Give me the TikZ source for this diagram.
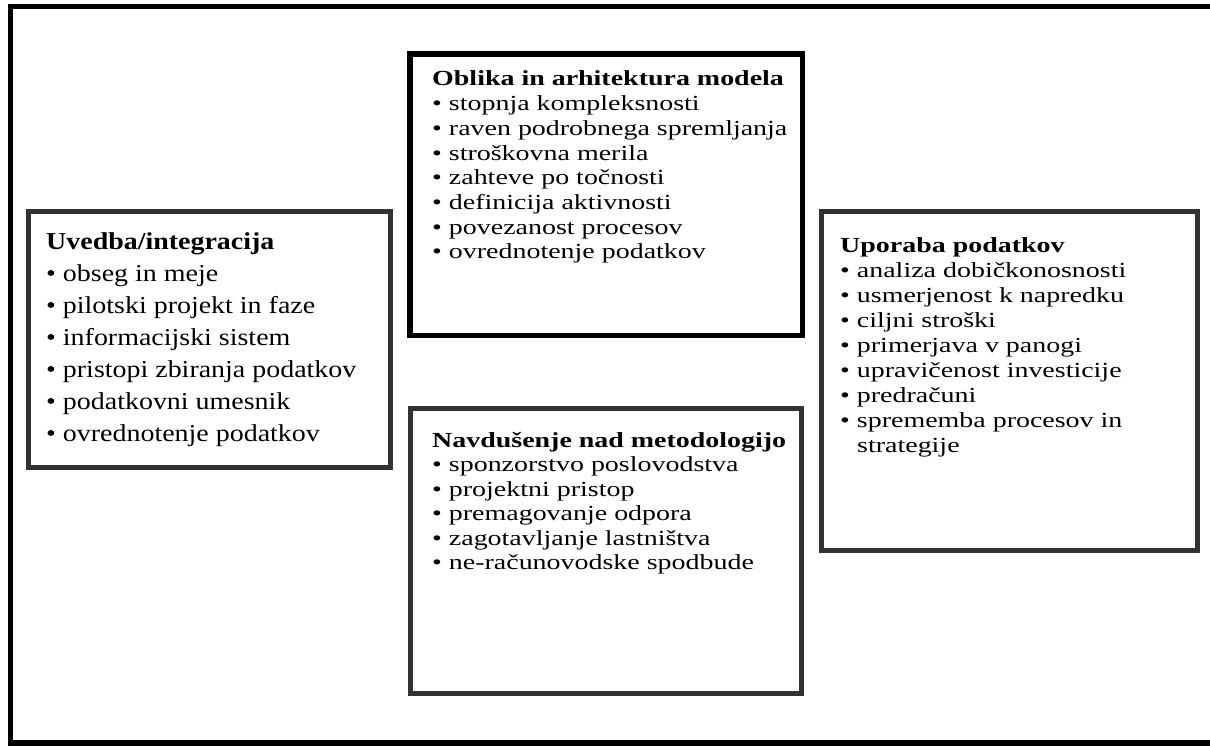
\documentclass[tikz,border=0pt]{standalone}
\usepackage{fontspec}
\setmainfont{Liberation Serif}
\newfontfamily\txtA{Liberation Serif}[FakeStretch=1.3]
\newfontfamily\txtB{Liberation Serif}[FakeStretch=1.15]
\definecolor{boxgray}{HTML}{333333}
\tikzset{
  frameline/.style={draw=black, line width=5.5pt},
  blackbox/.style={draw=black, line width=5.5pt},
  graybox/.style={draw=boxgray, line width=5pt},
  boxtext/.style={anchor=base west, inner sep=0pt,
    font=\txtA\fontsize{21.5pt}{25pt}\selectfont},
  lefttext/.style={anchor=base west, inner sep=0pt,
    font=\txtB\fontsize{24.3pt}{28pt}\selectfont}
}
\begin{document}
\begin{tikzpicture}[x=1pt,y=-1pt]
\useasboundingbox (0,0) rectangle (1210,746);
\fill[white] (0,0) rectangle (1210,746);
% outer frame
\draw[frameline] (1214,6.5) -- (10.5,6.5) -- (10.5,743) -- (1214,743);
% boxes
\draw[blackbox] (410,54) rectangle (802.5,335.5);
\draw[graybox] (28.5,211.5) rectangle (390,467);
\draw[graybox] (410,408) rectangle (801,693);
\draw[graybox] (821,212) rectangle (1197,550.5);
% left box
\node[lefttext] (uvedba) at (46,250) {\textbf{Uvedba/integracija}};
\foreach \t [count=\i] in {obseg in meje, pilotski projekt in faze,
  informacijski sistem, pristopi zbiranja podatkov, podatkovni umesnik,
  ovrednotenje podatkov}
  \node[lefttext] (uv\i) at (46,{249+\i*32}) {• \t};
% top middle box
\node[boxtext] (oblika) at (432,86) {\textbf{Oblika in arhitektura modela}};
\foreach \t [count=\i] in {stopnja kompleksnosti, raven podrobnega spremljanja,
  stroškovna merila, zahteve po točnosti, definicija aktivnosti,
  povezanost procesov, ovrednotenje podatkov}
  \node[boxtext] (ob\i) at (432,{86+\i*24.7}) {• \t};
% bottom middle box
\node[boxtext] (navdusenje) at (432,447) {\textbf{Navdušenje nad metodologijo}};
\foreach \t [count=\i] in {sponzorstvo poslovodstva, projektni pristop,
  premagovanje odpora, zagotavljanje lastništva, ne-računovodske spodbude}
  \node[boxtext] (na\i) at (432,{447+\i*24.5}) {• \t};
% right box
\node[boxtext] (uporaba) at (840,252) {\textbf{Uporaba podatkov}};
\foreach \t [count=\i] in {analiza dobičkonosnosti, usmerjenost k napredku,
  ciljni stroški, primerjava v panogi, upravičenost investicije,
  predračuni, sprememba procesov in}
  \node[boxtext] (up\i) at (840,{252+\i*25}) {• \t};
\node[boxtext] (up8) at (857,452) {strategije};
\end{tikzpicture}
\end{document}
